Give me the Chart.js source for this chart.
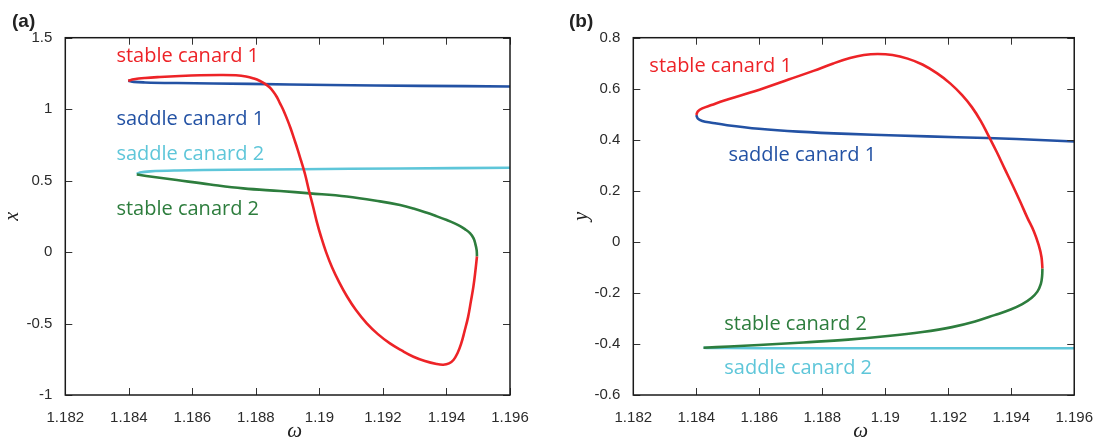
<!DOCTYPE html>
<html lang="en">
<head>
<meta charset="UTF-8">
<title>Canard branches</title>
<script src="https://cdn.jsdelivr.net/npm/chart.js"></script>
<style>
  body { margin: 0; background: #fff; }
  #wrap { position: relative; width: 1099px; height: 445px; }
  .panel { position: absolute; top: 0; }
</style>
</head>
<body>
<div id="wrap">
  <div class="panel" style="left:0"><canvas id="chartA" width="555" height="445"></canvas></div>
  <div class="panel" style="left:555px"><canvas id="chartB" width="544" height="445"></canvas></div>
</div>
<script>
// axis ticks
const omegaTicks = [1.182, 1.184, 1.186, 1.188, 1.19, 1.192, 1.194, 1.196];
const xTicksA = [1.5, 1, 0.5, 0, -0.5, -1];
const yTicksB = [0.8, 0.6, 0.4, 0.2, 0, -0.2, -0.4, -0.6];

// panel (a): x against omega
const aStable1W = [1.18398, 1.18416, 1.18451, 1.18498, 1.18561, 1.18624, 1.18687, 1.18737, 1.18769, 1.18794, 1.18813, 1.18829, 1.18843, 1.18855, 1.18866, 1.18876, 1.18887, 1.18898, 1.18909, 1.1892, 1.18931, 1.18942, 1.18955, 1.18967, 1.1898, 1.18992, 1.19005, 1.19021, 1.1904, 1.19062, 1.19087, 1.19115, 1.19149, 1.19184, 1.19222, 1.1926, 1.19296, 1.19332, 1.19369, 1.1939, 1.19408, 1.19422, 1.19435, 1.19446, 1.19457, 1.19468, 1.19477, 1.19485, 1.19491, 1.19496];
const aStable1X = [1.199, 1.209, 1.218, 1.225, 1.232, 1.237, 1.239, 1.237, 1.229, 1.214, 1.197, 1.177, 1.153, 1.122, 1.085, 1.041, 0.991, 0.932, 0.868, 0.795, 0.721, 0.641, 0.543, 0.431, 0.319, 0.210, 0.109, 0.000, -0.108, -0.210, -0.311, -0.406, -0.499, -0.574, -0.639, -0.690, -0.732, -0.762, -0.783, -0.788, -0.779, -0.755, -0.706, -0.643, -0.553, -0.455, -0.343, -0.238, -0.133, -0.031];
const aSaddle1W = [1.18398, 1.18416, 1.18451, 1.18551, 1.18781, 1.19033, 1.19317, 1.196];
const aSaddle1X = [1.199, 1.191, 1.187, 1.183, 1.177, 1.169, 1.163, 1.159];
const aSaddle2W = [1.18425, 1.18435, 1.18467, 1.18551, 1.18719, 1.18939, 1.19254, 1.196];
const aSaddle2X = [0.546, 0.557, 0.565, 0.571, 0.576, 0.580, 0.585, 0.590];
const aStable2W = [1.18425, 1.18467, 1.18551, 1.18656, 1.1876, 1.18876, 1.1897, 1.19086, 1.19191, 1.19254, 1.19296, 1.19336, 1.1937, 1.19401, 1.19424, 1.19443, 1.19458, 1.19474, 1.19485, 1.19491, 1.19495, 1.19496];
const aStable2X = [0.543, 0.529, 0.504, 0.473, 0.446, 0.427, 0.411, 0.389, 0.355, 0.329, 0.305, 0.277, 0.250, 0.224, 0.203, 0.182, 0.161, 0.133, 0.098, 0.056, 0.014, -0.031];

// panel (b): y against omega
const bStable1W = [1.184, 1.18405, 1.18419, 1.18448, 1.18489, 1.18551, 1.18614, 1.18693, 1.18772, 1.18835, 1.18888, 1.18932, 1.18976, 1.19023, 1.19071, 1.19118, 1.19165, 1.19206, 1.19244, 1.19275, 1.19303, 1.19328, 1.19354, 1.19379, 1.19404, 1.19429, 1.19451, 1.19472, 1.19487, 1.19496, 1.19499];
const bStable1Y = [0.497, 0.511, 0.523, 0.536, 0.554, 0.577, 0.602, 0.636, 0.670, 0.699, 0.720, 0.732, 0.736, 0.732, 0.718, 0.695, 0.660, 0.621, 0.575, 0.528, 0.474, 0.415, 0.352, 0.287, 0.223, 0.156, 0.095, 0.041, -0.012, -0.059, -0.104];
const bSaddle1W = [1.184, 1.18405, 1.18419, 1.18448, 1.18498, 1.18599, 1.18724, 1.18882, 1.19039, 1.19228, 1.19417, 1.196];
const bSaddle1Y = [0.497, 0.483, 0.474, 0.467, 0.457, 0.443, 0.432, 0.423, 0.417, 0.410, 0.403, 0.393];
const bSaddle2W = [1.18423, 1.1845, 1.185, 1.187, 1.190, 1.193, 1.196];
const bSaddle2Y = [-0.415, -0.416, -0.416, -0.417, -0.417, -0.417, -0.417];
const bStable2W = [1.19499, 1.19498, 1.19494, 1.19483, 1.19464, 1.19435, 1.19398, 1.19347, 1.19285, 1.19212, 1.19118, 1.19008, 1.18882, 1.1874, 1.18599, 1.18504, 1.18423];
const bStable2Y = [-0.104, -0.134, -0.165, -0.195, -0.220, -0.244, -0.265, -0.287, -0.312, -0.334, -0.353, -0.369, -0.383, -0.394, -0.404, -0.410, -0.415];

const RED = '#ed2327', BLUE = '#2352a4', CYAN = '#5ec6d9', GREEN = '#2d7d3d';

// curve names, anchored at (omega, value) of the text baseline start
const labelsA = [
  { text: 'stable canard 1', color: RED,   w: 1.18361, v: 1.330 },
  { text: 'saddle canard 1', color: BLUE,  w: 1.18361, v: 0.889 },
  { text: 'saddle canard 2', color: CYAN,  w: 1.18361, v: 0.644 },
  { text: 'stable canard 2', color: GREEN, w: 1.18361, v: 0.259 }
];
const labelsB = [
  { text: 'stable canard 1', color: RED,   w: 1.18251, v: 0.667 },
  { text: 'saddle canard 1', color: BLUE,  w: 1.18502, v: 0.317 },
  { text: 'stable canard 2', color: GREEN, w: 1.18489, v: -0.345 },
  { text: 'saddle canard 2', color: CYAN,  w: 1.18489, v: -0.519 }
];

const pts = (ws, vs) => ws.map((w, i) => ({ x: w, y: vs[i] }));
const series = (data, color) => ({
  data, borderColor: color, borderWidth: 2.6, showLine: true,
  pointRadius: 0, tension: 0.4, fill: false
});

// frame, inward tick marks on all sides, omega title, panel letter and curve names
const framePlugin = {
  id: 'frame',
  afterDatasetsDraw(chart, args, opts) {
    const { ctx, chartArea: a, scales: { x, y } } = chart;
    ctx.save();
    ctx.strokeStyle = '#333';
    ctx.lineWidth = 1;
    ctx.beginPath();
    x.ticks.forEach(t => {
      const px = Math.round(x.getPixelForValue(t.value)) + 0.5;
      ctx.moveTo(px, a.bottom); ctx.lineTo(px, a.bottom - 7);
      ctx.moveTo(px, a.top); ctx.lineTo(px, a.top + 7);
    });
    y.ticks.forEach(t => {
      const py = Math.round(y.getPixelForValue(t.value)) + 0.5;
      ctx.moveTo(a.left, py); ctx.lineTo(a.left + 7, py);
      ctx.moveTo(a.right, py); ctx.lineTo(a.right - 7, py);
    });
    ctx.stroke();
    ctx.strokeStyle = '#1a1a1a';
    ctx.lineWidth = 1.5;
    ctx.strokeRect(a.left, a.top, a.right - a.left, a.bottom - a.top);

    ctx.textBaseline = 'alphabetic';
    ctx.fillStyle = '#222';
    ctx.textAlign = 'center';
    ctx.font = 'italic 21px "Liberation Serif", "Times New Roman", serif';
    ctx.fillText('ω', (a.left + a.right) / 2 + 7, 437);

    ctx.textAlign = 'left';
    ctx.font = 'bold 19px "Liberation Sans", Arial, sans-serif';
    ctx.fillText(opts.letter, opts.letterX, 27);

    ctx.font = '20px "Open Sans", sans-serif';
    opts.labels.forEach(l => {
      ctx.fillStyle = l.color;
      ctx.fillText(l.text, x.getPixelForValue(l.w), y.getPixelForValue(l.v));
    });
    ctx.restore();
  }
};

const tickFont = { family: '"Liberation Sans", Arial, sans-serif', size: 15 };
const titleFont = { family: '"Liberation Serif", "Times New Roman", serif', size: 20, style: 'italic', lineHeight: 1 };
const fmt = v => String(parseFloat(Number(v).toFixed(3)));

function makeChart(id, datasets, cfg) {
  return new Chart(document.getElementById(id), {
    type: 'scatter',
    data: { datasets },
    plugins: [framePlugin],
    options: {
      responsive: false,
      animation: false,
      layout: { padding: { top: 37.7, right: cfg.padRight, left: 0, bottom: 0 } },
      plugins: {
        legend: { display: false },
        tooltip: { enabled: false },
        frame: { letter: cfg.letter, letterX: cfg.letterX, labels: cfg.labels }
      },
      scales: {
        x: {
          type: 'linear', min: 1.182, max: 1.196,
          afterBuildTicks: s => { s.ticks = omegaTicks.map(v => ({ value: v })); },
          afterFit: s => { s.height = 50; },
          grid: { display: false }, border: { display: false },
          ticks: { font: tickFont, color: '#2b2b2b', padding: 6, maxRotation: 0, autoSkip: false, callback: fmt }
        },
        y: {
          type: 'linear', min: cfg.yMin, max: cfg.yMax,
          afterBuildTicks: s => { s.ticks = cfg.yTicks.map(v => ({ value: v })); },
          afterFit: s => { s.width = cfg.yWidth; },
          grid: { display: false }, border: { display: false },
          ticks: { font: tickFont, color: '#2b2b2b', padding: 5, autoSkip: false, callback: fmt },
          title: { display: true, text: cfg.yTitle, font: titleFont, color: '#222', padding: { top: cfg.yTitlePad, bottom: 0 } }
        }
      }
    }
  });
}

makeChart('chartA', [
  series(pts(aStable1W, aStable1X), RED),
  series(pts(aStable2W, aStable2X), GREEN),
  series(pts(aSaddle1W, aSaddle1X), BLUE),
  series(pts(aSaddle2W, aSaddle2X), CYAN)
], { letter: '(a)', letterX: 12, labels: labelsA, padRight: 45, yWidth: 65.3,
     yMin: -1, yMax: 1.5, yTicks: xTicksA, yTitle: 'x', yTitlePad: 3 });

makeChart('chartB', [
  series(pts(bStable1W, bStable1Y), RED),
  series(pts(bStable2W, bStable2Y), GREEN),
  series(pts(bSaddle1W, bSaddle1Y), BLUE),
  series(pts(bSaddle2W, bSaddle2Y), CYAN)
], { letter: '(b)', letterX: 14, labels: labelsB, padRight: 20.7, yWidth: 78.3,
     yMin: -0.6, yMax: 0.8, yTicks: yTicksB, yTitle: 'y', yTitlePad: 16.5 });
</script>
</body>
</html>
